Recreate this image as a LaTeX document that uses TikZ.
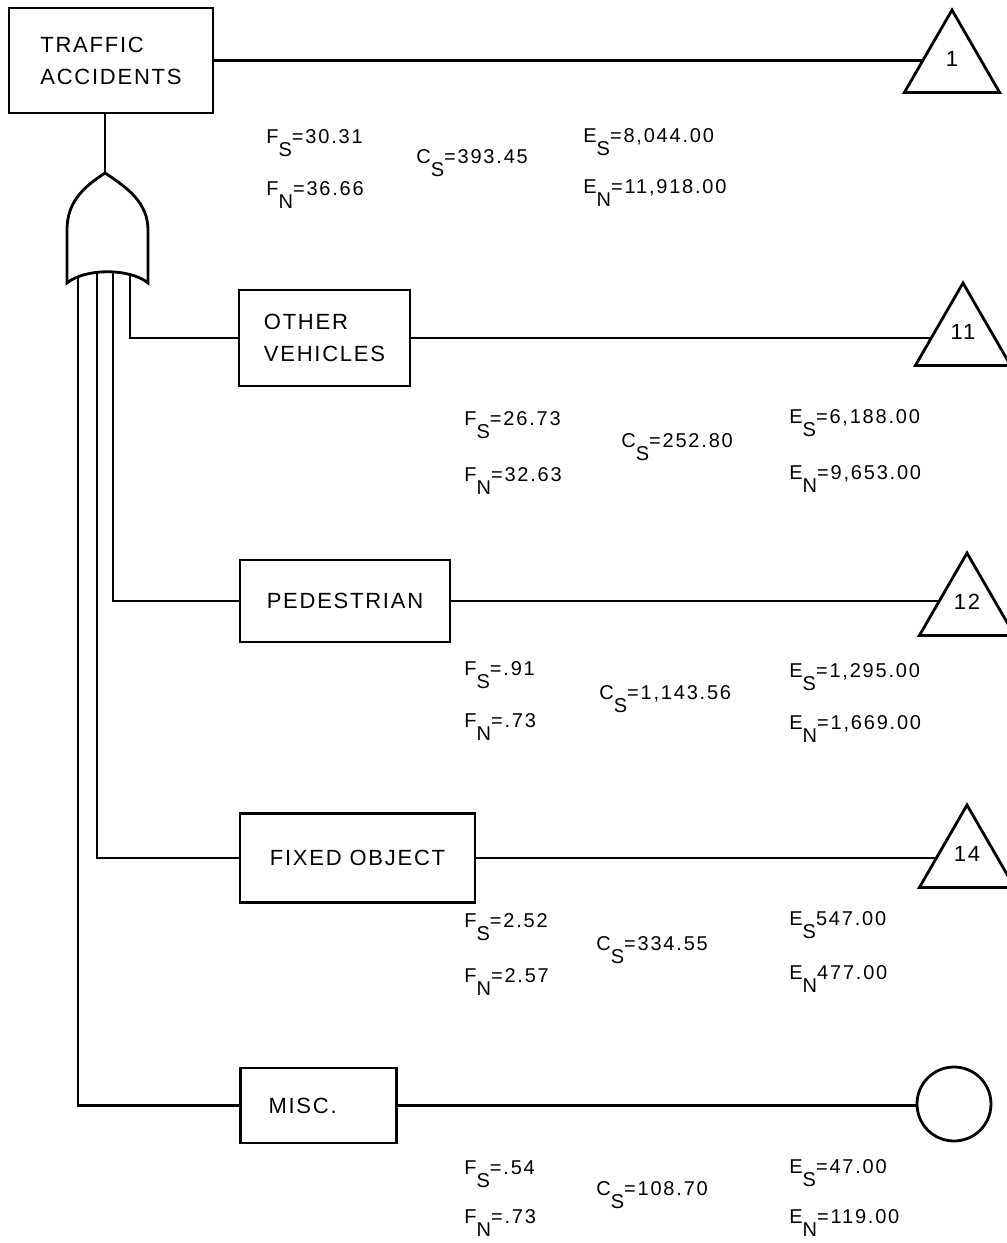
\documentclass[tikz,border=0pt]{standalone}
\usepackage{fontspec}
\setmainfont{Liberation Sans}
\newfontfamily\boxfont[LetterSpace=8]{Liberation Sans}
\newfontfamily\valfont[LetterSpace=9]{Liberation Sans}
\usepackage{tikz}
\usetikzlibrary{shapes.geometric,backgrounds}
\newcommand\lowsub[1]{\raisebox{-6.5pt}{#1}}

\begin{document}
\begin{tikzpicture}[x=0.5pt,y=-0.5pt,line width=1.4pt,
  event/.style={draw,fill=white,line width=1.2pt,font=\boxfont\fontsize{11}{16}\selectfont,align=left},
  transfer/.style={draw,fill=white,regular polygon,regular polygon sides=3,minimum size=55pt,
    inner sep=0pt,text depth=6pt,font=\boxfont\fontsize{11}{13}\selectfont},
  undev/.style={draw,fill=white,circle,minimum size=37pt},
  link/.style={line width=1.4pt},
  val/.style={anchor=base west,inner sep=0pt,font=\valfont\fontsize{10}{12}\selectfont}]
  \useasboundingbox (0,0) rectangle (1007,1243);
  \node[event,minimum width=102pt,minimum height=52.5pt] (top) at (111,60.5) {TRAFFIC\\ACCIDENTS};
  \node[event,minimum width=85.5pt,minimum height=48pt] (veh) at (324.5,338) {OTHER\\VEHICLES};
  \node[event,minimum width=105pt,minimum height=41pt] (ped) at (345,601) {PEDESTRIAN};
  \node[event,minimum width=117.5pt,minimum height=44.5pt] (obj) at (357.5,858) {FIXED OBJECT};
  \node[event,text width=50pt,inner xsep=14pt,minimum height=37.5pt] (misc) at (318.5,1105.5) {MISC.};
  \node[transfer] (t1) at (952,65) {1};
  \node[transfer] (t11) at (963,338) {11};
  \node[transfer] (t12) at (967,608) {12};
  \node[transfer] (t14) at (967,860) {14};
  \node[undev] (c5) at (954,1104) {};
  \coordinate (gtop) at (105,173);
  \coordinate (in1) at (130,260);
  \coordinate (in2) at (113,260);
  \coordinate (in3) at (97,260);
  \coordinate (in4) at (78,260);
  \begin{scope}[on background layer]
    \draw[link] (top.east) -- (top.east -| t1.center);
    \draw[link] (veh.east) -- (veh.east -| t11.center);
    \draw[link] (ped.east) -- (ped.east -| t12.center);
    \draw[link] (obj.east) -- (obj.east -| t14.center);
    \draw[link] (misc.east) -- (misc.east -| c5.center);
    \draw[link] (gtop |- top.south) -- (gtop);
    \draw[link] (in1) |- (veh.west);
    \draw[link] (in2) |- (ped.west);
    \draw[link] (in3) |- (obj.west);
    \draw[link] (in4) |- (misc.west);
  \end{scope}
  \draw[fill=white] (gtop) .. controls (82,188) and (67,203) .. (67,230) -- (67,283)
    .. controls (85,268) and (130,268) .. (148,283) -- (148,230)
    .. controls (148,203) and (128,188) .. (gtop) -- cycle;
  \node[val] (fs1) at (265,143) {F\lowsub{S}=30.31};
  \node[val] (fn1) at (265,195) {F\lowsub{N}=36.66};
  \node[val] (cs1) at (415,163) {C\lowsub{S}=393.45};
  \node[val] (es1) at (582,142) {E\lowsub{S}=8,044.00};
  \node[val] (en1) at (582,193) {E\lowsub{N}=11,918.00};
  \node[val] (fs2) at (463,425) {F\lowsub{S}=26.73};
  \node[val] (fn2) at (463,481) {F\lowsub{N}=32.63};
  \node[val] (cs2) at (620,447) {C\lowsub{S}=252.80};
  \node[val] (es2) at (788,423) {E\lowsub{S}=6,188.00};
  \node[val] (en2) at (788,479) {E\lowsub{N}=9,653.00};
  \node[val] (fs3) at (463,675) {F\lowsub{S}=.91};
  \node[val] (fn3) at (463,727) {F\lowsub{N}=.73};
  \node[val] (cs3) at (598,699) {C\lowsub{S}=1,143.56};
  \node[val] (es3) at (788,677) {E\lowsub{S}=1,295.00};
  \node[val] (en3) at (788,729) {E\lowsub{N}=1,669.00};
  \node[val] (fs4) at (463,927) {F\lowsub{S}=2.52};
  \node[val] (fn4) at (463,982) {F\lowsub{N}=2.57};
  \node[val] (cs4) at (595,950) {C\lowsub{S}=334.55};
  \node[val] (es4) at (788,925) {E\lowsub{S}547.00};
  \node[val] (en4) at (788,979) {E\lowsub{N}477.00};
  \node[val] (fs5) at (463,1174) {F\lowsub{S}=.54};
  \node[val] (fn5) at (463,1223) {F\lowsub{N}=.73};
  \node[val] (cs5) at (595,1195) {C\lowsub{S}=108.70};
  \node[val] (es5) at (788,1173) {E\lowsub{S}=47.00};
  \node[val] (en5) at (788,1223) {E\lowsub{N}=119.00};
\end{tikzpicture}
\end{document}
